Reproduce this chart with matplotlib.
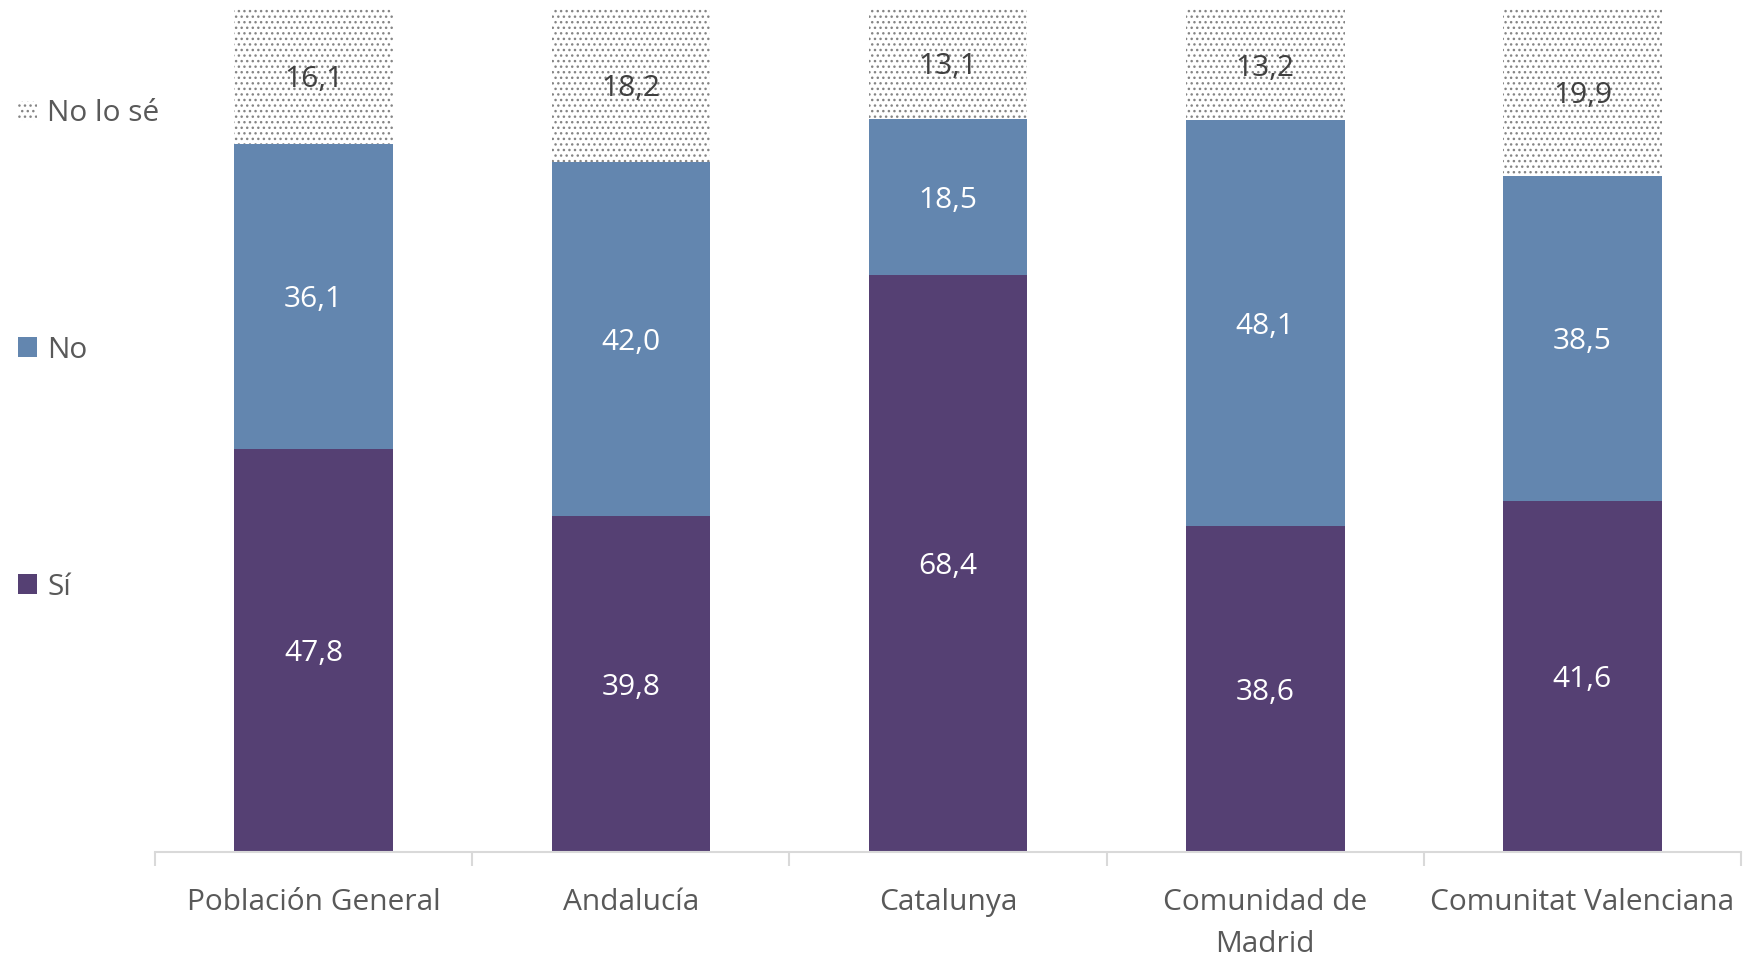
import matplotlib
matplotlib.use("Agg")
import matplotlib.pyplot as plt
import numpy as np

categories = ["Población General", "Andalucía", "Catalunya", "Comunidad de\nMadrid", "Comunitat Valenciana"]
si = [47.8, 39.8, 68.4, 38.6, 41.6]
no = [36.1, 42.0, 18.5, 48.1, 38.5]
nolose = [16.1, 18.2, 13.1, 13.2, 19.9]
series_names = ["Sí", "No", "No lo sé"]

plt.rcParams['font.family'] = ['Open Sans', 'DejaVu Sans']
plt.rcParams['hatch.linewidth'] = 1.0

fig = plt.figure(figsize=(17.44, 9.56), dpi=100)
ax = fig.add_axes([0.0889, 0.1088, 0.9094, 0.8828])

x = np.arange(len(categories))
w = 0.5
c_si = "#554073"
c_no = "#6386AF"
b1 = ax.bar(x, si, w, color=c_si, label=series_names[0])
b2 = ax.bar(x, no, w, bottom=si, color=c_no, label=series_names[1])
bot3 = np.array(si) + np.array(no)
b3 = ax.bar(x, nolose, w, bottom=bot3, color="white", edgecolor="#858585",
            linewidth=0, hatch="...", label=series_names[2])

fs = 21.5
def fmt(v):
    return f"{v:.1f}".replace(".", ",")
for i in range(len(categories)):
    ax.text(x[i], si[i] / 2, fmt(si[i]), ha="center", va="center_baseline", color="white", fontsize=fs)
    ax.text(x[i], si[i] + no[i] / 2, fmt(no[i]), ha="center", va="center_baseline", color="white", fontsize=fs)
    ax.text(x[i], bot3[i] + nolose[i] / 2, fmt(nolose[i]), ha="center", va="center_baseline",
            color="#404040", fontsize=fs)

ax.set_xlim(-0.5, len(categories) - 0.5)
ax.set_ylim(0, 100)
ax.set_yticks([])
for s in ["top", "right", "left"]:
    ax.spines[s].set_visible(False)
ax.spines["bottom"].set_color("#D9D9D9")
ax.spines["bottom"].set_linewidth(1.5)
ax.set_xticks(x)
ax.set_xticklabels(categories, fontsize=fs, color="#595959", linespacing=1.6)
ax.tick_params(axis="x", which="major", length=0, pad=26)
ax.set_xticks(np.arange(-0.5, len(categories), 1.0), minor=True)
ax.tick_params(axis="x", which="minor", length=10, width=1.5, color="#D9D9D9")

leg = fig.legend(handles=[b3, b2, b1], labels=[series_names[2], series_names[1], series_names[0]],
                 loc="upper left", bbox_to_anchor=(0.0015, 0.912), frameon=False, borderpad=0,
                 fontsize=fs, labelcolor="#595959", handlelength=0.65, handleheight=0.65,
                 handletextpad=0.35, labelspacing=6.96)

fig.savefig("out.png", dpi=100)
